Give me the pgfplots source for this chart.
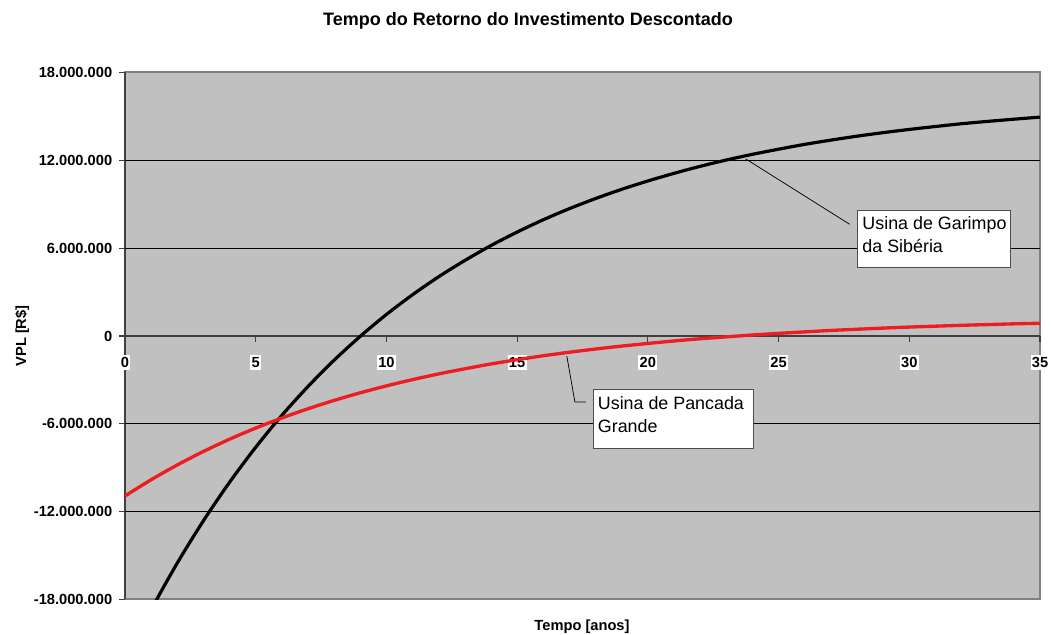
\documentclass[border=0pt]{standalone}
\usepackage{fontspec}
\setmainfont{Liberation Sans}
\usepackage{pgfplots}
\pgfplotsset{compat=1.18}

\definecolor{plotbg}{RGB}{192,192,192}
\definecolor{framegray}{RGB}{128,128,128}
\definecolor{axisgray}{RGB}{64,64,64}
\definecolor{vplred}{RGB}{236,30,36}

% VPL acumulado descontado (milhoes de R$) por ano
\pgfplotstableread{
t   vpl
0  -22.20
1  -18.70
2  -15.51
3  -12.62
4   -9.99
5   -7.60
6   -5.42
7   -3.45
8   -1.65
9   -0.02
10   1.47
11   2.82
12   4.05
13   5.16
14   6.18
15   7.10
16   7.94
17   8.70
18   9.39
19  10.02
20  10.59
21  11.11
22  11.59
23  12.02
24  12.41
25  12.76
26  13.09
27  13.38
28  13.65
29  13.89
30  14.11
31  14.31
32  14.50
33  14.66
34  14.81
35  14.95
}\garimpo

\pgfplotstableread{
t   vpl
0  -10.93
1   -9.82
2   -8.81
3   -7.89
4   -7.05
5   -6.29
6   -5.60
7   -4.97
8   -4.40
9   -3.88
10  -3.41
11  -2.98
12  -2.59
13  -2.24
14  -1.91
15  -1.62
16  -1.35
17  -1.11
18  -0.89
19  -0.69
20  -0.51
21  -0.34
22  -0.19
23  -0.06
24   0.07
25   0.18
26   0.28
27   0.38
28   0.46
29   0.54
30   0.61
31   0.67
32   0.73
33   0.78
34   0.83
35   0.87
}\pancada

\newcommand{\tickfont}{\fontsize{11}{13}\selectfont\bfseries}
\newcommand{\notefont}{\fontsize{13.4}{16.8}\selectfont}

\begin{document}
\begin{tikzpicture}
\useasboundingbox (0pt,0pt) rectangle (788.25pt,476.25pt);

\node[anchor=base, inner sep=0pt, font=\fontsize{13.5}{16}\selectfont\bfseries]
  at (396pt,456.75pt) {Tempo do Retorno do Investimento Descontado};
\node[anchor=base, inner sep=0pt, font=\tickfont]
  at (436.5pt,3.2pt) {Tempo [anos]};
\node[anchor=base, inner sep=0pt, rotate=90, font=\tickfont]
  at (19.5pt,224.25pt) {VPL [R\$]};

\begin{axis}[
  at={(93.75pt,26.625pt)}, anchor=south west,
  scale only axis, width=686.25pt, height=395.25pt,
  xmin=0, xmax=35, ymin=-18, ymax=18,
  axis x line*=middle, axis y line*=left,
  hide obscured x ticks=false,
  axis line style={axisgray, line width=1.4pt},
  axis background/.style={fill=plotbg, draw=framegray, line width=1.5pt},
  xtick={0,5,10,15,20,25,30,35},
  xticklabels={0,5,10,15,20,25,30,35},
  ytick={-18,-12,-6,0,6,12,18},
  yticklabels={-18.000.000,-12.000.000,-6.000.000,0,6.000.000,12.000.000,18.000.000},
  extra y ticks={-12,-6,6,12},
  extra y tick labels={},
  extra y tick style={grid=major, major tick length=0pt},
  grid style={black, line width=0.6pt},
  tick align=outside,
  major tick length=4.5pt,
  tick style={axisgray, line width=0.9pt},
  x tick label style={font=\tickfont, fill=white, inner xsep=1pt, inner ysep=1.5pt,
    anchor=center, yshift=-15.4pt},
  y tick label style={font=\tickfont, inner sep=0pt, anchor=east, xshift=-4.9pt},
  clip=true,
]
\addplot[black, line width=2.4pt, smooth] table[x=t, y=vpl] {\garimpo};
\addplot[vplred, line width=2.5pt, smooth] table[x=t, y=vpl] {\pancada};

% rotulo da usina de Garimpo da Siberia
\draw[black, line width=0.55pt] (23.74,12.10) -- (27.72,7.63);
\draw[fill=white, draw=black!70, line width=0.7pt] (28.03,4.67) rectangle (33.87,8.56);
\node[anchor=north west, inner sep=0pt, align=left, font=\notefont]
  at (28.20,8.15) {Usina de Garimpo\\da Sibéria};

% rotulo da usina de Pancada Grande
\draw[black, line width=0.55pt] (16.90,-1.37) -- (17.21,-4.51) -- (17.63,-4.51);
\draw[fill=white, draw=black!70, line width=0.7pt] (17.93,-7.67) rectangle (24.03,-3.64);
\node[anchor=north west, inner sep=0pt, align=left, font=\notefont]
  at (18.08,-4.15) {Usina de Pancada\\Grande};
\end{axis}
\end{tikzpicture}
\end{document}
